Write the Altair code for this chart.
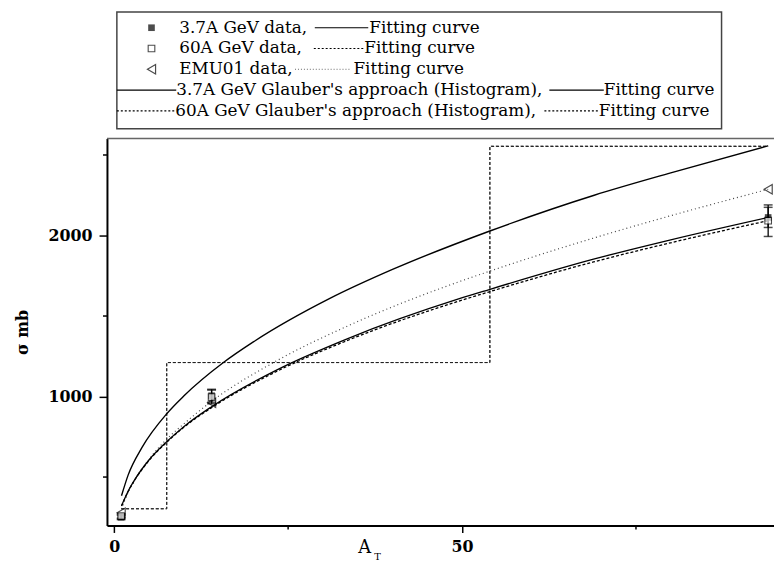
import altair as alt
import pandas as pd

# ---------------- data ----------------
# measured points (A_T, sigma in mb)
pts_A = [1, 14, 94]
s37 = [250, 1005, 2112]
s37_lo = [236, 965, 2050]
s37_hi = [264, 1045, 2175]
s60 = [258, 997, 2092]
s60_lo = [244, 955, 1994]
s60_hi = [272, 1040, 2190]
emu = [278, 961, 2287]

# fitting curves
fitG_A = [1.05, 2, 4, 7.55, 10, 15.7, 20, 31, 40, 54, 69, 80, 94]
fitG37 = [384, 512, 684, 893, 1003, 1211, 1339, 1609, 1789, 2028, 2250, 2389, 2557]

fit_A = [1.05, 2, 3, 5, 7.55, 10, 14, 23.4, 33.4, 49.5, 53.8, 68.9, 80, 94]
fit37 = [322, 412, 487, 606, 720, 813, 937, 1166, 1357, 1606, 1663, 1853, 1973, 2112]
fit60 = [320, 410, 485, 603, 716, 809, 931, 1157, 1346, 1592, 1649, 1836, 1955, 2092]
fitE = [302, 404, 484, 610, 735, 830, 970, 1223, 1435, 1712, 1776, 1984, 2123, 2287]

# Glauber histograms (step-after)
hist_A = [1, 7.55, 54, 94]
hist37 = [303, 1211, 2555, 2555]
hist60 = [303, 1211, 2553, 2553]

x_major = [0, 50]
y_major = [1000, 2000]
x_minor = [25, 75]
y_minor = [500, 1500, 2500]

# ---------------- layout ----------------
W, H = 674, 391
FONT = "DejaVu Serif"
XDOM = [-1.04, 94.84]
YDOM = [199, 2602]

X_AXIS = alt.Axis(values=x_major, title=None, grid=False, tickSize=7, tickWidth=1.5, format="d",
                  domainColor="black", domainWidth=2, tickColor="black",
                  labelFont=FONT, labelFontWeight="bold", labelFontSize=16,
                  labelColor="black", labelPadding=6)
Y_AXIS = alt.Axis(values=y_major, title=None, grid=False, tickSize=8, tickWidth=1.5, format="d",
                  domainColor="black", domainWidth=2, tickColor="black",
                  labelFont=FONT, labelFontWeight="bold", labelFontSize=16,
                  labelColor="black", labelPadding=7)


def xe(field):
    return alt.X(f"{field}:Q", scale=alt.Scale(domain=XDOM, nice=False, zero=False), axis=X_AXIS)


def ye(field):
    return alt.Y(f"{field}:Q", scale=alt.Scale(domain=YDOM, nice=False, zero=False), axis=Y_AXIS)


def curve(A, s, dash=None, color="black", width=1.3, interp="monotone"):
    df = pd.DataFrame({"A": A, "s": s})
    kw = dict(color=color, strokeWidth=width, interpolate=interp)
    if dash:
        kw["strokeDash"] = dash
    return alt.Chart(df).mark_line(**kw).encode(x=xe("A"), y=ye("s"))


layers = []

# histograms
layers.append(curve(hist_A, hist37, color="#222", width=1.0, interp="step-after", dash=[3, 2]))
layers.append(curve(hist_A, hist60, color="#222", width=1.0, interp="step-after", dash=[3, 2]))

# fitting curves
layers.append(curve(fitG_A, fitG37, width=1.4))
layers.append(curve(fit_A, fitE, dash=[1, 3], color="#444", width=1.2))
layers.append(curve(fit_A, fit37, width=1.3))
layers.append(curve(fit_A, fit60, dash=[3, 2], width=1.3))

# error bars
for lo, hi in [(s37_lo, s37_hi), (s60_lo, s60_hi)]:
    df = pd.DataFrame({"A": pts_A, "lo": lo, "hi": hi})
    layers.append(alt.Chart(df).mark_rule(color="black", strokeWidth=1.3).encode(
        x=xe("A"), y=ye("lo"), y2="hi"))
    layers.append(alt.Chart(df).mark_tick(orient="horizontal", size=9, thickness=1.5, color="black").encode(
        x=xe("A"), y=ye("lo")))
    layers.append(alt.Chart(df).mark_tick(orient="horizontal", size=9, thickness=1.5, color="black").encode(
        x=xe("A"), y=ye("hi")))

# data points
layers.append(alt.Chart(pd.DataFrame({"A": pts_A, "s": emu})).mark_point(
    shape="triangle-left", filled=False, color="black", size=90, strokeWidth=1.2).encode(
    x=xe("A"), y=ye("s")))
layers.append(alt.Chart(pd.DataFrame({"A": pts_A, "s": s37})).mark_point(
    shape="square", filled=True, color="black", size=45).encode(x=xe("A"), y=ye("s")))
layers.append(alt.Chart(pd.DataFrame({"A": pts_A, "s": s60})).mark_point(
    shape="square", filled=True, fill="white", stroke="black", strokeWidth=1.1, size=45).encode(
    x=xe("A"), y=ye("s")))

# minor ticks
layers.append(alt.Chart(pd.DataFrame({"v": x_minor})).mark_rule(color="black", strokeWidth=1.5).encode(
    x=xe("v"), y=alt.value(H), y2=alt.value(H + 4)))
layers.append(alt.Chart(pd.DataFrame({"v": y_minor})).mark_rule(color="black", strokeWidth=1.5).encode(
    y=ye("v"), x=alt.value(-4), x2=alt.value(0)))

DUMMY = alt.Data(values=[{}])


def rule(x1, x2, y, dash=None, color="black", width=1.2):
    kw = dict(color=color, strokeWidth=width)
    if dash:
        kw["strokeDash"] = dash
    return alt.Chart(DUMMY).mark_rule(**kw).encode(x=alt.value(x1), x2=alt.value(x2), y=alt.value(y))


def text(t, x, y, size=17, weight="normal", align="left", baseline="middle", angle=0):
    kw = dict(font=FONT, fontSize=size, fontWeight=weight, align=align, baseline=baseline, color="black")
    if angle:
        kw["angle"] = angle
    return alt.Chart(DUMMY).mark_text(**kw).encode(x=alt.value(x), y=alt.value(y), text=alt.value(t))


# top frame line
layers.append(rule(0, W, 0, color="#666", width=1.5))

# axis titles
layers.append(text("σ mb", -85, 196, size=16, weight="bold", align="center", angle=270))
layers.append(text("A", 254, 419, size=18, baseline="alphabetic"))
layers.append(text("T", 270, 426, size=10, baseline="alphabetic"))

# legend box
layers.append(alt.Chart(DUMMY).mark_rect(fillOpacity=0, stroke="#444", strokeWidth=1.5).encode(
    x=alt.value(10), x2=alt.value(621), y=alt.value(-128), y2=alt.value(-10)))

rows = [-112, -91, -70, -49, -28]
layers.append(alt.Chart(DUMMY).mark_point(shape="square", filled=True, color="black", size=45).encode(
    x=alt.value(45), y=alt.value(rows[0])))
layers.append(alt.Chart(DUMMY).mark_point(shape="square", filled=False, color="black", size=45,
                                          strokeWidth=1.1).encode(x=alt.value(45), y=alt.value(rows[1])))
layers.append(alt.Chart(DUMMY).mark_point(shape="triangle-left", filled=False, color="black", size=90,
                                          strokeWidth=1.2).encode(x=alt.value(45), y=alt.value(rows[2])))

layers.append(text("3.7A GeV data,", 73, rows[0]))
layers.append(rule(210, 264, rows[0]))
layers.append(text("Fitting curve", 265, rows[0]))

layers.append(text("60A GeV data,", 73, rows[1]))
layers.append(rule(209, 259, rows[1], dash=[2, 2]))
layers.append(text("Fitting curve", 260, rows[1]))

layers.append(text("EMU01 data,", 73, rows[2]))
layers.append(rule(190, 247, rows[2], dash=[1, 2], color="#666", width=1))
layers.append(text("Fitting curve", 249, rows[2]))

layers.append(rule(10, 70, rows[3]))
layers.append(text("3.7A GeV Glauber's approach (Histogram),", 70, rows[3]))
layers.append(rule(447, 502, rows[3]))
layers.append(text("Fitting curve", 502, rows[3]))

layers.append(rule(10, 69, rows[4], dash=[2, 2]))
layers.append(text("60A GeV Glauber's approach (Histogram),", 69, rows[4]))
layers.append(rule(442, 497, rows[4], dash=[2, 2]))
layers.append(text("Fitting curve", 497, rows[4]))

chart = alt.layer(*layers).properties(
    width=W, height=H,
    autosize=alt.AutoSizeParams(type="none"),
    padding={"left": 100, "top": 129, "right": 0, "bottom": 41},
    background="white",
).configure_view(strokeWidth=0)

chart.save("out.html", embed_options={"renderer": "svg", "actions": False})
